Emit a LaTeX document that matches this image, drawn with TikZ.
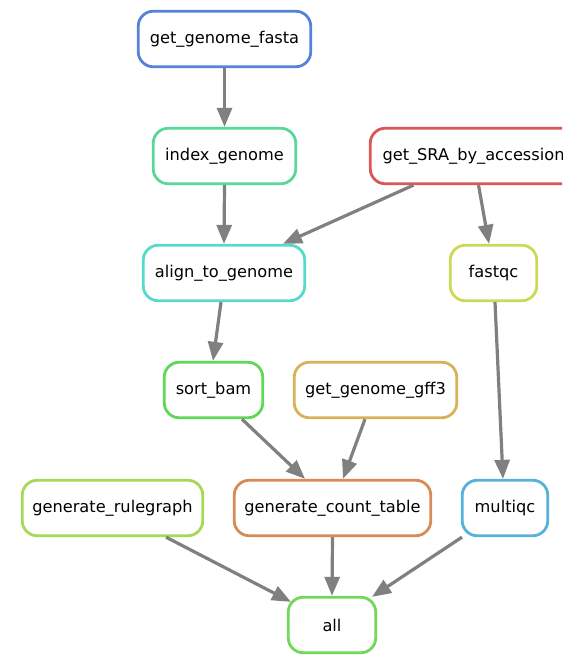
\documentclass[tikz,border=0pt]{standalone}
\usepackage{fontspec}
\setmainfont{DejaVu Sans}
\usetikzlibrary{arrows.meta}
\definecolor{cfasta}{RGB}{87,130,217}
\definecolor{cindex}{RGB}{87,217,152}
\definecolor{csra}{RGB}{217,87,87}
\definecolor{calign}{RGB}{87,217,204}
\definecolor{cfastqc}{RGB}{204,217,87}
\definecolor{csort}{RGB}{94,217,87}
\definecolor{cgff}{RGB}{217,178,87}
\definecolor{crule}{RGB}{165,217,87}
\definecolor{ccount}{RGB}{217,139,87}
\definecolor{cmulti}{RGB}{87,178,217}
\definecolor{call}{RGB}{113,217,87}
\begin{document}
\begin{tikzpicture}[x=1pt,y=-1pt,
  rulebox/.style={draw, line width=2.8pt, rounded corners=15pt, fill=white,
    minimum height=55.5pt, inner sep=0pt, font=\fontsize{16.2}{19}\selectfont},
  edge/.style={draw=gray, line width=3.2pt, -{Triangle[length=19pt,width=15pt]}, color=gray}]
\useasboundingbox (0,0) rectangle (562,655);
\clip (0,0) rectangle (562,655);
\node[rulebox, draw=cfasta, minimum width=172.5pt] (fasta) at (224.5,39) {get\_genome\_fasta};
\node[rulebox, draw=cindex, minimum width=142.5pt] (index) at (224.5,156) {index\_genome};
\node[rulebox, draw=csra, minimum width=206.5pt] (sra) at (473.5,156) {get\_SRA\_by\_accession};
\node[rulebox, draw=calign, minimum width=161.5pt] (align) at (224,273) {align\_to\_genome};
\node[rulebox, draw=cfastqc, minimum width=86.5pt] (fastqc) at (493.5,273) {fastqc};
\node[rulebox, draw=csort, minimum width=98.5pt] (sort) at (213.5,390) {sort\_bam};
\node[rulebox, draw=cgff, minimum width=162.5pt] (gff) at (375.5,390) {get\_genome\_gff3};
\node[rulebox, draw=crule, minimum width=180.5pt] (rule) at (112.5,508) {generate\_rulegraph};
\node[rulebox, draw=ccount, minimum width=196.5pt] (count) at (332.5,508) {generate\_count\_table};
\node[rulebox, draw=cmulti, minimum width=85.5pt] (multi) at (505,508) {multiqc};
\node[rulebox, draw=call, minimum width=87.5pt] (all) at (332,625) {all};

\draw[edge] (fasta.south) -- (index.north);
\draw[edge] (index.south) -- (align.north);
\draw[edge] ([xshift=-60pt]sra.south) -- ([xshift=59pt]align.north);
\draw[edge] ([xshift=5pt]sra.south) -- ([xshift=-4.5pt]fastqc.north);
\draw[edge] ([xshift=-3pt]align.south) -- ([xshift=-0.5pt]sort.north);
\draw[edge] ([xshift=1.5pt]fastqc.south) -- ([xshift=-2pt]multi.north);
\draw[edge] ([xshift=28.5pt]sort.south) -- ([xshift=-27.5pt]count.north);
\draw[edge] ([xshift=-10.5pt]gff.south) -- ([xshift=10.5pt]count.north);
\draw[edge] ([xshift=53.5pt]rule.south) -- ([xshift=-41pt,yshift=-6pt]all.north);
\draw[edge] (count.south) -- (all.north);
\draw[edge] ([xshift=-43pt]multi.south) -- ([xshift=40pt,yshift=-1pt]all.north);
\end{tikzpicture}
\end{document}
